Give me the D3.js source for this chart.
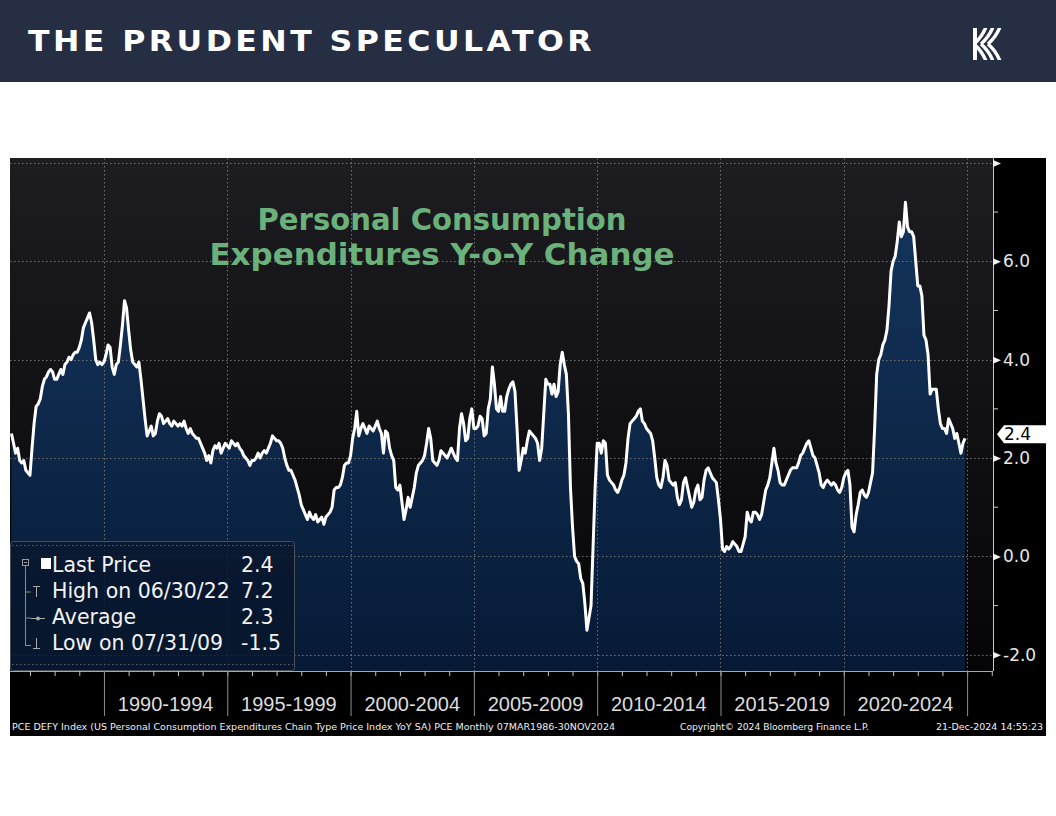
<!DOCTYPE html>
<html><head><meta charset="utf-8">
<script src="https://cdn.jsdelivr.net/npm/d3@7"></script>
<style>
html,body{margin:0;padding:0;background:#fff;}
svg{display:block;}
</style></head><body>
<svg id="chart" width="1056" height="816"></svg>
<script>
// ---------------- DATA ----------------
// PCE Chain Type Price Index YoY (%), monthly, Mar 1986 - Nov 2024
const startYear = 1986;
const startMonth = 3; // March (month-end dating)
const pce1980s = [
  2.5, 2.3, 2.1, 2.2, 1.95, 1.9, 1.95, 1.75, 1.7, 1.65,            // 1986 Mar-Dec
  2.2, 2.7, 3.05, 3.1, 3.2, 3.45, 3.6, 3.65, 3.75, 3.8, 3.75, 3.6,  // 1987
  3.6, 3.7, 3.8, 3.7, 3.9, 3.95, 4.05, 4.0, 4.1, 4.15, 4.15, 4.25,  // 1988
  4.4, 4.65, 4.75, 4.85, 4.95, 4.75, 4.4, 4.0, 3.9, 3.95, 3.9, 3.95 // 1989
];
const pce1990s = [
  4.1, 4.3, 4.25, 3.85, 3.7, 3.9, 3.95, 4.3, 4.7, 5.2, 5.05, 4.6,   // 1990
  4.2, 3.95, 3.9, 3.85, 3.95, 3.6, 3.2, 2.8, 2.45, 2.55, 2.65, 2.45,// 1991
  2.5, 2.75, 2.9, 2.85, 2.7, 2.75, 2.8, 2.7, 2.65, 2.75, 2.7, 2.65, // 1992
  2.7, 2.65, 2.75, 2.6, 2.5, 2.6, 2.5, 2.45, 2.4, 2.4, 2.3, 2.2,    // 1993
  2.1, 1.95, 2.05, 1.9, 2.15, 2.25, 2.2, 2.3, 2.1, 2.2, 2.3, 2.25,  // 1994
  2.2, 2.35, 2.3, 2.25, 2.3, 2.2, 2.15, 2.05, 2.0, 1.95, 1.85, 1.95,// 1995
  1.95, 2.0, 2.1, 2.0, 2.1, 2.15, 2.1, 2.2, 2.3, 2.45, 2.4, 2.35,   // 1996
  2.35, 2.3, 2.2, 2.0, 1.85, 1.75, 1.75, 1.65, 1.55, 1.4, 1.25, 1.05,// 1997
  0.95, 0.85, 0.75, 0.9, 0.8, 0.75, 0.85, 0.7, 0.75, 0.8, 0.65, 0.8,// 1998
  0.85, 0.9, 1.0, 1.35, 1.4, 1.4, 1.45, 1.6, 1.85, 1.9, 1.9, 2.05   // 1999
];
const pce2000s = [
  2.4, 2.6, 2.95, 2.45, 2.6, 2.7, 2.6, 2.5, 2.65, 2.6, 2.55, 2.65,  // 2000
  2.75, 2.6, 2.5, 2.1, 2.55, 2.5, 2.2, 2.05, 1.95, 1.4, 1.35, 1.45, // 2001
  1.1, 0.75, 0.95, 1.2, 1.0, 1.2, 1.4, 1.7, 1.85, 1.9, 1.95, 2.05,  // 2002
  2.3, 2.6, 2.4, 1.95, 1.9, 1.85, 1.95, 2.15, 2.1, 2.05, 2.0, 2.1,  // 2003
  2.2, 2.1, 2.0, 1.95, 2.6, 2.9, 2.7, 2.35, 2.4, 2.8, 3.0, 2.6,     // 2004
  2.6, 2.65, 2.85, 2.8, 2.45, 2.5, 3.0, 3.2, 3.85, 3.5, 3.0, 2.95,  // 2005
  3.25, 2.95, 2.95, 3.25, 3.4, 3.5, 3.55, 3.35, 2.6, 1.75, 1.95, 2.2,// 2006
  2.1, 2.35, 2.55, 2.5, 2.45, 2.4, 2.3, 1.95, 2.2, 2.9, 3.6, 3.5,   // 2007
  3.5, 3.3, 3.5, 3.25, 3.35, 3.9, 4.15, 3.9, 3.7, 2.9, 1.4, 0.6,    // 2008
  0.0, -0.1, -0.15, -0.45, -0.55, -0.95, -1.5, -1.25, -1.0, 0.2, 1.4, 2.3 // 2009
];
const pce2010s = [
  2.3, 2.1, 2.35, 2.3, 1.65, 1.55, 1.5, 1.45, 1.35, 1.3, 1.4, 1.55, // 2010
  1.65, 1.9, 2.4, 2.7, 2.75, 2.8, 2.85, 2.95, 3.0, 2.75, 2.7, 2.6,  // 2011
  2.55, 2.5, 2.35, 2.0, 1.6, 1.45, 1.4, 1.6, 1.95, 1.85, 1.55, 1.5, // 2012
  1.45, 1.5, 1.2, 1.05, 1.15, 1.5, 1.6, 1.4, 1.2, 1.0, 1.1, 1.35,   // 2013
  1.45, 1.15, 1.2, 1.55, 1.75, 1.8, 1.7, 1.6, 1.55, 1.5, 1.15, 0.75,// 2014
  0.15, 0.1, 0.2, 0.15, 0.2, 0.3, 0.25, 0.2, 0.1, 0.1, 0.25, 0.4,   // 2015
  0.9, 0.75, 0.7, 0.9, 0.9, 0.85, 0.75, 0.85, 1.1, 1.35, 1.45, 1.6, // 2016
  1.9, 2.2, 1.9, 1.75, 1.5, 1.45, 1.45, 1.55, 1.65, 1.75, 1.8, 1.8, // 2017
  1.8, 1.9, 2.05, 2.1, 2.2, 2.3, 2.35, 2.2, 2.05, 2.0, 1.85, 1.7,   // 2018
  1.45, 1.4, 1.5, 1.55, 1.5, 1.45, 1.5, 1.45, 1.35, 1.3, 1.4, 1.6   // 2019
];
const pce2020s = [
  1.7, 1.75, 1.45, 0.6, 0.5, 0.85, 1.05, 1.3, 1.35, 1.25, 1.2, 1.3, // 2020
  1.5, 1.7, 2.6, 3.7, 4.0, 4.1, 4.3, 4.4, 4.6, 5.1, 5.8, 6.0,       // 2021
  6.1, 6.4, 6.8, 6.5, 6.6, 7.2, 6.7, 6.6, 6.6, 6.5, 6.0, 5.5,       // 2022
  5.5, 5.3, 4.5, 4.4, 4.1, 3.3, 3.4, 3.4, 3.4, 3.0, 2.7, 2.6,       // 2023
  2.6, 2.5, 2.8, 2.7, 2.6, 2.4, 2.5, 2.3, 2.1, 2.3, 2.4             // 2024 Jan-Nov
];
const yMajorTicks = [-2, 0, 2, 4, 6, 8];
const yMinorTicks = [-1, 1, 3, 5, 7];
const periodStarts = [1990, 1995, 2000, 2005, 2010, 2015, 2020];
const periodLabels = ["1990-1994", "1995-1999", "2000-2004", "2005-2009", "2010-2014", "2015-2019", "2020-2024"];
const yearTicks = d3.range(1987, 2027);
const lastValue = 2.4;
const legendLabels = ["Last Price", "High on 06/30/22", "Average", "Low on 07/31/09"];
const legendValues = ["2.4", "7.2", "2.3", "-1.5"];
const chartTitle = ["Personal Consumption", "Expenditures Y-o-Y Change"];
const footerLeft = "PCE DEFY Index (US Personal Consumption Expenditures Chain Type Price Index YoY SA) PCE  Monthly 07MAR1986-30NOV2024";
const footerMid = "Copyright\u00A9 2024 Bloomberg Finance L.P.";
const footerRight = "21-Dec-2024 14:55:23";

// ---------------- BUILD ----------------
const allValues = [].concat(pce1980s, pce1990s, pce2000s, pce2010s, pce2020s);
const series = allValues.map((v, i) => ({ t: startYear + (startMonth + i) / 12, v }));

const L = 10, R = 993, T = 158, B = 671;
const x = d3.scaleLinear().domain([1986.19, 2026.05]).range([L, R]);
const y = d3.scaleLinear().domain([-2.33, 8.1]).range([B, T]);

const svg = d3.select("#chart");
const defs = svg.append("defs");
const bg = defs.append("linearGradient").attr("id", "bgGrad")
  .attr("x1", 0).attr("y1", 0).attr("x2", 0).attr("y2", 1);
bg.append("stop").attr("offset", "0%").attr("stop-color", "#1d1d21");
bg.append("stop").attr("offset", "100%").attr("stop-color", "#050507");
const ag = defs.append("linearGradient").attr("id", "areaGrad")
  .attr("gradientUnits", "userSpaceOnUse").attr("x1", 0).attr("y1", 180).attr("x2", 0).attr("y2", B);
ag.append("stop").attr("offset", "0%").attr("stop-color", "#15365e");
ag.append("stop").attr("offset", "100%").attr("stop-color", "#061a36");
defs.append("clipPath").attr("id", "plotClip").append("rect")
  .attr("x", L).attr("y", T).attr("width", R - L).attr("height", B - T);

// Header
svg.append("rect").attr("x", 0).attr("y", 0).attr("width", 1056).attr("height", 82).attr("fill", "#262e44");
svg.append("text").attr("x", 28).attr("y", 51)
  .attr("font-family", "'DejaVu Sans', Verdana, sans-serif").attr("font-weight", "bold")
  .attr("font-size", 27.5).attr("fill", "#ffffff").attr("letter-spacing", 3)
  .attr("textLength", 567).attr("lengthAdjust", "spacingAndGlyphs")
  .text("THE PRUDENT SPECULATOR");
// Logo
const logo = svg.append("g").attr("transform", "translate(973,28)");
logo.append("clipPath").attr("id", "logoClip").append("rect").attr("width", 29).attr("height", 32);
const lg = logo.append("g").attr("clip-path", "url(#logoClip)");
lg.append("rect").attr("x", 0).attr("y", 0).attr("width", 4).attr("height", 32).attr("fill", "#fff");
[0, 1, 2].forEach(k => {
  lg.append("path").attr("d", `M${1 + k * 7},16 Q${9 + k * 7},9 ${13 + k * 7},-1`)
    .attr("fill", "none").attr("stroke", "#fff").attr("stroke-width", 3.4);
  lg.append("path").attr("d", `M${1 + k * 7},16 Q${9 + k * 7},23 ${13 + k * 7},33`)
    .attr("fill", "none").attr("stroke", "#fff").attr("stroke-width", 3.4);
});

// Chart panel
svg.append("rect").attr("x", L).attr("y", T).attr("width", 1046 - L).attr("height", 736 - T).attr("fill", "#000");
svg.append("rect").attr("x", L).attr("y", T).attr("width", R - L).attr("height", B - T).attr("fill", "url(#bgGrad)");

const plot = svg.append("g").attr("clip-path", "url(#plotClip)");
const area = d3.area().x(d => x(d.t)).y0(B).y1(d => y(d.v)).curve(d3.curveLinear);
const line = d3.line().x(d => x(d.t)).y(d => y(d.v)).curve(d3.curveLinear);
plot.append("path").datum(series).attr("d", area).attr("fill", "url(#areaGrad)");

// gridlines
const grid = plot.append("g").attr("stroke", "#727272").attr("stroke-width", 1).attr("stroke-dasharray", "1.5,2.5");
grid.selectAll("line.h").data(yMajorTicks).join("line").attr("class", "h")
  .attr("x1", L).attr("x2", R).attr("y1", d => Math.round(y(d)) + 0.5).attr("y2", d => Math.round(y(d)) + 0.5);
grid.selectAll("line.v").data(periodStarts.concat([2025])).join("line").attr("class", "v")
  .attr("y1", T).attr("y2", B).attr("x1", d => Math.round(x(d)) + 0.5).attr("x2", d => Math.round(x(d)) + 0.5);

plot.append("path").datum(series).attr("d", line).attr("fill", "none")
  .attr("stroke", "#ffffff").attr("stroke-width", 3).attr("stroke-linejoin", "round");

// Title in plot
const title = svg.append("g").attr("font-family", "'DejaVu Sans', Verdana, sans-serif").attr("font-weight", "bold")
  .attr("font-size", 29.5).attr("fill", "#6bb17b").attr("text-anchor", "middle");
title.append("text").attr("x", 442).attr("y", 230).attr("textLength", 369).attr("lengthAdjust", "spacingAndGlyphs").text(chartTitle[0]);
title.append("text").attr("x", 442).attr("y", 265).attr("textLength", 465).attr("lengthAdjust", "spacingAndGlyphs").text(chartTitle[1]);

// Right axis
const yAxis = d3.axisRight(y).tickValues(yMajorTicks).tickSize(0).tickPadding(10).tickFormat(d => d.toFixed(1));
const ya = svg.append("g").attr("transform", `translate(${R},0)`).call(yAxis);
ya.select(".domain").attr("stroke", "#c8c8c8").attr("d", `M0.5,${T}V${B}`);
ya.selectAll(".tick text").attr("font-family", "'DejaVu Sans', Verdana, sans-serif").attr("font-size", 17)
  .attr("fill", "#e6e6e6").attr("x", 10);
ya.selectAll(".tick text").filter(d => d === 8).remove();
ya.selectAll(".tick").append("path").attr("d", "M0,-3.5L8,0L0,3.5Z").attr("fill", "#f2f2f2");
ya.selectAll("line.minor").data(yMinorTicks).join("line").attr("class", "minor")
  .attr("x1", 0).attr("x2", 5).attr("y1", d => y(d)).attr("y2", d => y(d)).attr("stroke", "#c8c8c8");

// Last price tag
const ly = y(lastValue) - 4;
svg.append("path").attr("d", `M997,${ly}L1004,${ly - 9}H1046V${ly + 9}H1004Z`).attr("fill", "#ffffff");
svg.append("text").attr("x", 1004).attr("y", ly).attr("dy", "0.36em")
  .attr("font-family", "'DejaVu Sans', Verdana, sans-serif").attr("font-size", 17).attr("fill", "#000")
  .text(lastValue.toFixed(1));

// Bottom axis
svg.append("line").attr("x1", L).attr("x2", R).attr("y1", B + 0.5).attr("y2", B + 0.5).attr("stroke", "#a8a8a8");
const xMinor = d3.axisBottom(x).tickValues(yearTicks.filter(d => x(d) < R)).tickSize(5).tickFormat("");
const xm = svg.append("g").attr("transform", `translate(0,${B})`).call(xMinor);
xm.select(".domain").remove();
xm.selectAll(".tick line").attr("stroke", "#c0c0c0");
const xMajor = d3.axisBottom(x).tickValues(periodStarts.concat([2025])).tickSize(45).tickFormat("");
const xM = svg.append("g").attr("transform", `translate(0,${B})`).call(xMajor);
xM.select(".domain").remove();
xM.selectAll(".tick line").attr("stroke", "#8e8e8e");
svg.append("g").selectAll("text").data(periodStarts).join("text")
  .attr("x", (d, i) => x(d + 2.5)).attr("y", 711)
  .attr("text-anchor", "middle").attr("font-family", "'Liberation Sans', Arial, sans-serif")
  .attr("font-size", 20).attr("fill", "#dcdcdc")
  .text((d, i) => periodLabels[i]);

// Footer
const foot = svg.append("g").attr("font-family", "'DejaVu Sans', Verdana, sans-serif").attr("font-size", 9.5).attr("fill", "#f0f0f0");
foot.append("text").attr("x", 12).attr("y", 730).attr("textLength", 603).attr("lengthAdjust", "spacingAndGlyphs").text(footerLeft);
foot.append("text").attr("x", 680).attr("y", 730).attr("textLength", 189).attr("lengthAdjust", "spacingAndGlyphs").text(footerMid);
foot.append("text").attr("x", 936).attr("y", 730).attr("textLength", 107).attr("lengthAdjust", "spacingAndGlyphs").text(footerRight);

// Legend
const leg = svg.append("g");
leg.append("rect").attr("x", 10.5).attr("y", 541.5).attr("width", 284).attr("height", 129).attr("rx", 3)
  .attr("fill", "rgba(8,22,44,0.78)").attr("stroke", "#4a4f58");
leg.selectAll("line.dl").data([545.5, 664.5]).join("line").attr("class", "dl")
  .attr("x1", 12).attr("x2", 293).attr("y1", d => d).attr("y2", d => d)
  .attr("stroke", "#5a5f68").attr("stroke-dasharray", "1.5,2.5");
// tree
leg.append("rect").attr("x", 22.5).attr("y", 559.5).attr("width", 6).attr("height", 6).attr("fill", "none").attr("stroke", "#9a9a9a");
leg.append("line").attr("x1", 24).attr("x2", 27).attr("y1", 562.5).attr("y2", 562.5).attr("stroke", "#9a9a9a");
leg.append("line").attr("x1", 25.5).attr("x2", 25.5).attr("y1", 566).attr("y2", 646).attr("stroke", "#8a8a8a");
leg.selectAll("line.br").data([592, 618, 645.5]).join("line").attr("class", "br")
  .attr("x1", 25.5).attr("x2", 31).attr("y1", d => d).attr("y2", d => d).attr("stroke", "#8a8a8a");
// icons
leg.append("rect").attr("x", 41).attr("y", 558).attr("width", 10).attr("height", 11).attr("fill", "#ffffff");
leg.append("path").attr("d", "M33,586.5H40M36.5,586.5V597").attr("stroke", "#a8a8a8").attr("fill", "none");
leg.append("path").attr("d", "M31,618.5H45").attr("stroke", "#a8a8a8");
leg.append("circle").attr("cx", 38).attr("cy", 618.5).attr("r", 2).attr("fill", "#a8a8a8");
leg.append("path").attr("d", "M36.5,638V648.5M33,648.5H40").attr("stroke", "#a8a8a8").attr("fill", "none");
const rowY = [572, 598, 624, 650];
leg.selectAll("text.lab").data(legendLabels).join("text").attr("class", "lab")
  .attr("x", 52).attr("y", (d, i) => rowY[i])
  .attr("font-family", "'DejaVu Sans', Verdana, sans-serif").attr("font-size", 20.5).attr("fill", "#f2f2f2")
  .text(d => d);
leg.selectAll("text.val").data(legendValues).join("text").attr("class", "val")
  .attr("x", 241).attr("y", (d, i) => rowY[i])
  .attr("font-family", "'DejaVu Sans', Verdana, sans-serif").attr("font-size", 20.5).attr("fill", "#f2f2f2")
  .text(d => d);
</script>
</body></html>
